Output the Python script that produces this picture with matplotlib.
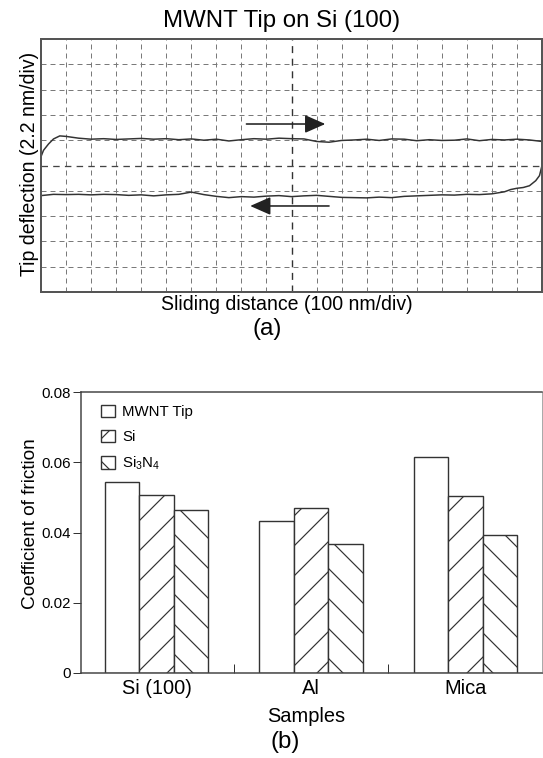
import matplotlib
matplotlib.use("Agg")
import matplotlib.pyplot as plt

# ---------------- data ----------------
# panel (a): friction loop traces (x in divisions, y in divisions)
trace_fwd_x = [0, 0.1, 0.3, 0.5, 0.75, 1.0, 1.5, 2.0, 2.5, 3, 3.5, 4, 4.5, 5, 5.5, 6, 6.5, 7,
               7.5, 8, 8.5, 9, 9.5, 10, 10.5, 11, 11.5, 12, 12.5, 13, 13.5, 14, 14.5, 15, 15.5,
               16, 16.5, 17, 17.5, 18, 18.5, 19, 19.5, 20]
trace_fwd_y = [5.35, 5.6, 5.85, 6.05, 6.17, 6.15, 6.08, 6.04, 6.06, 6.03, 6.05, 6.07, 6.04, 6.06,
               6.02, 6.05, 6.0, 6.04, 5.97, 6.02, 6.06, 6.04, 6.08, 6.06, 6.05, 5.95, 5.92, 5.99,
               6.01, 6.04, 5.99, 6.05, 6.04, 5.98, 6.02, 5.99, 6.0, 6.05, 5.98, 6.03, 6.01, 6.04,
               6.01, 5.95]
trace_back_x = [0, 0.5, 1, 1.5, 2, 2.5, 3, 3.5, 4, 4.5, 5, 5.5, 6, 6.5, 7, 7.5, 8, 8.5, 9, 9.5,
                10, 10.5, 11, 11.5, 12, 12.5, 13, 13.5, 14, 14.5, 15, 15.5, 16, 16.5, 17, 17.5,
                18, 18.25, 18.5, 18.75, 19, 19.25, 19.5, 19.75, 19.9, 20]
trace_back_y = [3.81, 3.86, 3.85, 3.86, 3.84, 3.86, 3.85, 3.82, 3.84, 3.8, 3.84, 3.86, 3.95, 3.85,
                3.78, 3.73, 3.77, 3.75, 3.79, 3.81, 3.77, 3.8, 3.82, 3.78, 3.74, 3.73, 3.72, 3.75,
                3.73, 3.78, 3.8, 3.82, 3.84, 3.83, 3.86, 3.85, 3.88, 3.92, 3.96, 4.05, 4.1, 4.13,
                4.2, 4.4, 4.6, 5.0]

# panel (b): coefficient of friction
samples = ["Si (100)", "Al", "Mica"]
series_names = ["MWNT Tip", "Si", "Si$_3$N$_4$"]
cof_mwnt = [0.0545, 0.0432, 0.0615]
cof_si = [0.0507, 0.0469, 0.0505]
cof_si3n4 = [0.0465, 0.0366, 0.0394]

# ---------------- style ----------------
DPI = 180
W, H = 543, 758
P = 72.0 / DPI  # px -> pt

plt.rcParams['font.family'] = ['Liberation Sans', 'DejaVu Sans']
plt.rcParams['mathtext.default'] = 'regular'
plt.rcParams['hatch.linewidth'] = 1.2 * P
plt.rcParams['hatch.color'] = '#333333'

fig = plt.figure(figsize=(W / DPI, H / DPI), dpi=DPI)

def fx(px):
    return px / W

def fy(py):
    return 1 - py / H

# ---------------- panel (a) ----------------
ax1 = fig.add_axes([fx(41), fy(292), fx(542) - fx(41), fy(39) - fy(292)])
ax1.set_xlim(0, 20)
ax1.set_ylim(0, 10)
dash = (5 * P * 2.5, 4 * P * 2.5)
grid_kw = dict(color='#7a7a7a', lw=1.0 * P, dashes=dash)
for gx in range(1, 20):
    if gx == 10:
        ax1.axvline(gx, color='#333333', lw=1.4 * P, dashes=dash)
    else:
        ax1.axvline(gx, **grid_kw)
for gy in range(1, 10):
    if gy == 5:
        ax1.axhline(gy, color='#444444', lw=1.3 * P, dashes=dash)
    else:
        ax1.axhline(gy, **grid_kw)
ax1.plot(trace_fwd_x, trace_fwd_y, color='#333333', lw=1.5 * P)
ax1.plot(trace_back_x, trace_back_y, color='#333333', lw=1.5 * P)
ax1.annotate('', xy=(11.35, 6.64), xytext=(8.2, 6.64),
             arrowprops=dict(arrowstyle='-|>,head_length=0.5,head_width=0.22', color='#222222',
                             lw=1.6 * P, mutation_scale=14 * P * 2.5, shrinkA=0, shrinkB=0))
ax1.annotate('', xy=(8.35, 3.4), xytext=(11.5, 3.4),
             arrowprops=dict(arrowstyle='-|>,head_length=0.5,head_width=0.22', color='#222222',
                             lw=1.6 * P, mutation_scale=14 * P * 2.5, shrinkA=0, shrinkB=0))
ax1.set_xticks([])
ax1.set_yticks([])
for s in ax1.spines.values():
    s.set_color('#555555')
    s.set_linewidth(2.0 * P)

fig.text(fx(282), fy(27), "MWNT Tip on Si (100)", fontsize=24 * P, ha='center', va='baseline')
fig.text(fx(287), fy(310), "Sliding distance (100 nm/div)", fontsize=19.5 * P,
         ha='center', va='baseline')
fig.text(fx(267), fy(335), "(a)", fontsize=24 * P, ha='center', va='baseline')
fig.text(fx(35), fy(163.5), "Tip deflection (2.2 nm/div)", fontsize=19.5 * P, rotation=90,
         rotation_mode='anchor', ha='center', va='baseline')

# ---------------- panel (b) ----------------
ax2 = fig.add_axes([fx(81), fy(673), fx(542) - fx(81), fy(392) - fy(673)])
xpos = list(range(len(samples)))
bw = 0.2227
edge = '#333333'
ax2.bar([x - bw for x in xpos], cof_mwnt, bw, facecolor='white', edgecolor=edge,
        lw=1.4 * P, label=series_names[0])
ax2.bar(xpos, cof_si, bw, facecolor='white', edgecolor=edge, hatch='//',
        lw=1.4 * P, label=series_names[1])
ax2.bar([x + bw for x in xpos], cof_si3n4, bw, facecolor='white', edgecolor=edge,
        hatch='\\\\', lw=1.4 * P, label=series_names[2])
ax2.set_xlim(-0.4887, 2.495)
ax2.set_ylim(0, 0.08)
ax2.set_yticks([0, 0.02, 0.04, 0.06, 0.08])
ax2.set_yticklabels(['0', '0.02', '0.04', '0.06', '0.08'])
ax2.tick_params(axis='y', direction='out', length=8 * P, width=1.0 * P, pad=2 * P,
                labelsize=15 * P, color='#333333')
ax2.set_xticks(xpos)
ax2.set_xticklabels(samples)
ax2.tick_params(axis='x', which='major', length=0, pad=6 * P, labelsize=20 * P)
ax2.set_xticks([0.5, 1.5], minor=True)
ax2.tick_params(axis='x', which='minor', direction='in', length=9 * P, width=1.0 * P,
                color='#333333')
for name, s in ax2.spines.items():
    s.set_color('#444444')
    s.set_linewidth(1.5 * P)
ax2.spines['right'].set_color('#aaaaaa')
ax2.spines['right'].set_linewidth(1.0 * P)

ax2.legend(loc='upper left', bbox_to_anchor=(fx(101), fy(405)),
           bbox_transform=fig.transFigure, frameon=False, fontsize=15 * P,
           handlelength=0.9, handleheight=0.9, handletextpad=0.5, labelspacing=0.7,
           borderpad=0, borderaxespad=0)

fig.text(fx(35), fy(524), "Coefficient of friction", fontsize=19 * P, rotation=90,
         rotation_mode='anchor', ha='center', va='baseline')
fig.text(fx(306), fy(722), "Samples", fontsize=20 * P, ha='center', va='baseline')
fig.text(fx(285), fy(748), "(b)", fontsize=24 * P, ha='center', va='baseline')

fig.savefig("out.png", dpi=DPI)
